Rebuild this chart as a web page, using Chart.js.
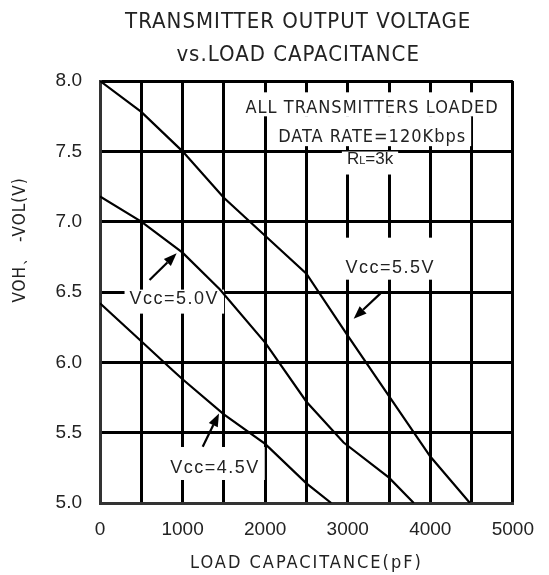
<!DOCTYPE html>
<html>
<head>
<meta charset="utf-8">
<script src="https://cdn.jsdelivr.net/npm/chart.js@4.4.1/dist/chart.umd.min.js"></script>
<style>
  html, body { margin: 0; padding: 0; background: #fff; }
</style>
</head>
<body>
<canvas id="chart" width="549" height="575"></canvas>
<script>
// curves
const capVcc55 = [0, 500, 1000, 1500, 2000, 2500, 3000, 3500, 4000, 4480];
const voltVcc55 = [8.0, 7.78, 7.5, 7.17, 6.9, 6.63, 6.19, 5.76, 5.33, 5.0];
const capVcc50 = [0, 500, 1000, 1450, 2000, 2500, 2950, 3500, 3800];
const voltVcc50 = [7.18, 7.0, 6.78, 6.52, 6.14, 5.72, 5.43, 5.18, 5.0];
const capVcc45 = [0, 500, 850, 1000, 1500, 2000, 2500, 2800];
const voltVcc45 = [6.42, 6.15, 5.96, 5.88, 5.63, 5.42, 5.14, 5.0];

const xTickLabels = ["0", "1000", "2000", "3000", "4000", "5000"];
const yTickLabels = ["5.0", "5.5", "6.0", "6.5", "7.0", "7.5", "8.0"];

const titleLines = ["TRANSMITTER OUTPUT VOLTAGE", "vs.LOAD CAPACITANCE"];
const xTitle = "LOAD CAPACITANCE(pF)";
const yTitle = "VOH、 -VOL(V)";

const toPoints = (xs, ys) => xs.map((x, i) => ({ x, y: ys[i] }));

const condensed = "'DejaVu Sans Condensed', 'DejaVu Sans', sans-serif";
const arial = "'Liberation Sans', Arial, sans-serif";

// text notes in data units; up/down = white box extent above/below the text centre
const notes = [
  { parts: [["ALL TRANSMITTERS LOADED", 18]], font: condensed, ls: 1, x: 3296, y: 7.82, up: 14, down: 10 },
  { parts: [["DATA RATE=120Kbps", 18]], font: condensed, ls: 1, x: 3296, y: 7.615, up: 19, down: 11 },
  { parts: [["R", 17], ["L", 11], ["=3k", 17]], font: arial, ls: 0, x: 3270, y: 7.456, up: 6, down: 17 },
  { parts: [["Vcc=5.0V", 18]], font: arial, ls: 1.5, x: 900, y: 6.46, up: 8, down: 16 },
  { parts: [["Vcc=4.5V", 18]], font: arial, ls: 1.5, x: 1392, y: 5.256, up: 20, down: 13 },
  { parts: [["Vcc=5.5V", 18]], font: arial, ls: 1.5, x: 3515, y: 6.68, up: 29, down: 13 },
];

const arrows = [
  { from: [600, 6.585], to: [928, 6.775] },
  { from: [1244, 5.4], to: [1441, 5.637] },
  { from: [3397, 6.49], to: [3072, 6.31] },
];

const measureNote = (ctx, note) => {
  let w = 0;
  note.parts.forEach(([t, size]) => {
    ctx.font = `${size}px ${note.font}`;
    ctx.letterSpacing = `${note.ls}px`;
    w += ctx.measureText(t).width;
  });
  return w;
};

const notesPlugin = {
  id: "notes",
  beforeDatasetsDraw(chart) {
    const { ctx, scales } = chart;
    ctx.save();
    ctx.fillStyle = "#fff";
    notes.forEach((note) => {
      const cx = scales.x.getPixelForValue(note.x);
      const cy = scales.y.getPixelForValue(note.y);
      const w = measureNote(ctx, note);
      ctx.fillRect(cx - w / 2 - 5, cy - note.up, w + 10, note.up + note.down);
    });
    ctx.restore();
  },
  afterDatasetsDraw(chart) {
    const { ctx, scales } = chart;
    ctx.save();
    ctx.fillStyle = "#222";
    ctx.textBaseline = "alphabetic";
    ctx.textAlign = "left";
    notes.forEach((note) => {
      const cx = scales.x.getPixelForValue(note.x);
      const cy = scales.y.getPixelForValue(note.y);
      const w = measureNote(ctx, note);
      const base = cy + note.parts[0][1] * 0.36;
      let x = cx - w / 2;
      note.parts.forEach(([t, size]) => {
        ctx.font = `${size}px ${note.font}`;
        ctx.letterSpacing = `${note.ls}px`;
        ctx.fillText(t, x, base);
        x += ctx.measureText(t).width;
      });
    });

    ctx.letterSpacing = "0px";
    ctx.strokeStyle = "#000";
    ctx.fillStyle = "#000";
    ctx.lineWidth = 2.2;
    arrows.forEach(({ from, to }) => {
      const x0 = scales.x.getPixelForValue(from[0]);
      const y0 = scales.y.getPixelForValue(from[1]);
      const x1 = scales.x.getPixelForValue(to[0]);
      const y1 = scales.y.getPixelForValue(to[1]);
      const ang = Math.atan2(y1 - y0, x1 - x0);
      const len = 13;
      const half = 5;
      const bx = x1 - len * Math.cos(ang);
      const by = y1 - len * Math.sin(ang);
      ctx.beginPath();
      ctx.moveTo(x0, y0);
      ctx.lineTo(bx, by);
      ctx.stroke();
      ctx.beginPath();
      ctx.moveTo(x1, y1);
      ctx.lineTo(bx + half * Math.sin(ang), by - half * Math.cos(ang));
      ctx.lineTo(bx - half * Math.sin(ang), by + half * Math.cos(ang));
      ctx.closePath();
      ctx.fill();
    });
    ctx.restore();
  },
  afterDraw(chart) {
    const { ctx, chartArea } = chart;
    ctx.save();
    ctx.fillStyle = "#222";
    ctx.textAlign = "center";
    ctx.textBaseline = "middle";

    ctx.font = `22px ${condensed}`;
    ctx.letterSpacing = "1px";
    const tx = chartArea.left + chartArea.width * 0.48;
    ctx.fillText(titleLines[0], tx, 22);
    ctx.fillText(titleLines[1], tx, 55);

    ctx.font = `18px ${condensed}`;
    ctx.letterSpacing = "2px";
    ctx.fillText(xTitle, (chartArea.left + chartArea.right) / 2, 563);

    ctx.font = `17px ${condensed}`;
    ctx.letterSpacing = "1px";
    ctx.translate(21, 240);
    ctx.rotate(-Math.PI / 2);
    ctx.fillText(yTitle, 0, 0);
    ctx.restore();
  },
};

const curve = (label, xs, ys) => ({
  label,
  data: toPoints(xs, ys),
  borderColor: "#000",
  borderWidth: 2.2,
  pointRadius: 0,
  tension: 0,
  fill: false,
});

new Chart(document.getElementById("chart").getContext("2d"), {
  type: "line",
  data: {
    datasets: [
      curve("Vcc=5.5V", capVcc55, voltVcc55),
      curve("Vcc=5.0V", capVcc50, voltVcc50),
      curve("Vcc=4.5V", capVcc45, voltVcc45),
    ],
  },
  plugins: [notesPlugin],
  options: {
    responsive: false,
    animation: false,
    layout: { padding: { top: 81, right: 27, bottom: 0, left: 0 } },
    plugins: {
      legend: { display: false },
      title: { display: false },
      tooltip: { enabled: false },
    },
    scales: {
      x: {
        type: "linear",
        min: 0,
        max: 5000,
        afterFit: (scale) => { scale.height = 72; },
        border: { display: true, color: "#333", width: 3 },
        grid: { color: "#000", lineWidth: 3, drawTicks: false },
        ticks: {
          stepSize: 500,
          autoSkip: false,
          maxRotation: 0,
          padding: 15,
          color: "#222",
          font: { family: arial, size: 19 },
          callback: (v) => xTickLabels.find((l) => Number(l) === v) || "",
        },
      },
      y: {
        min: 5,
        max: 8,
        afterFit: (scale) => { scale.width = 100; },
        border: { display: true, color: "#333", width: 3 },
        grid: { color: "#000", lineWidth: 3, drawTicks: false },
        ticks: {
          stepSize: 0.5,
          padding: 18,
          color: "#222",
          font: { family: arial, size: 19 },
          callback: (v) => yTickLabels.find((l) => Number(l) === v) || "",
        },
      },
    },
  },
});
</script>
</body>
</html>
